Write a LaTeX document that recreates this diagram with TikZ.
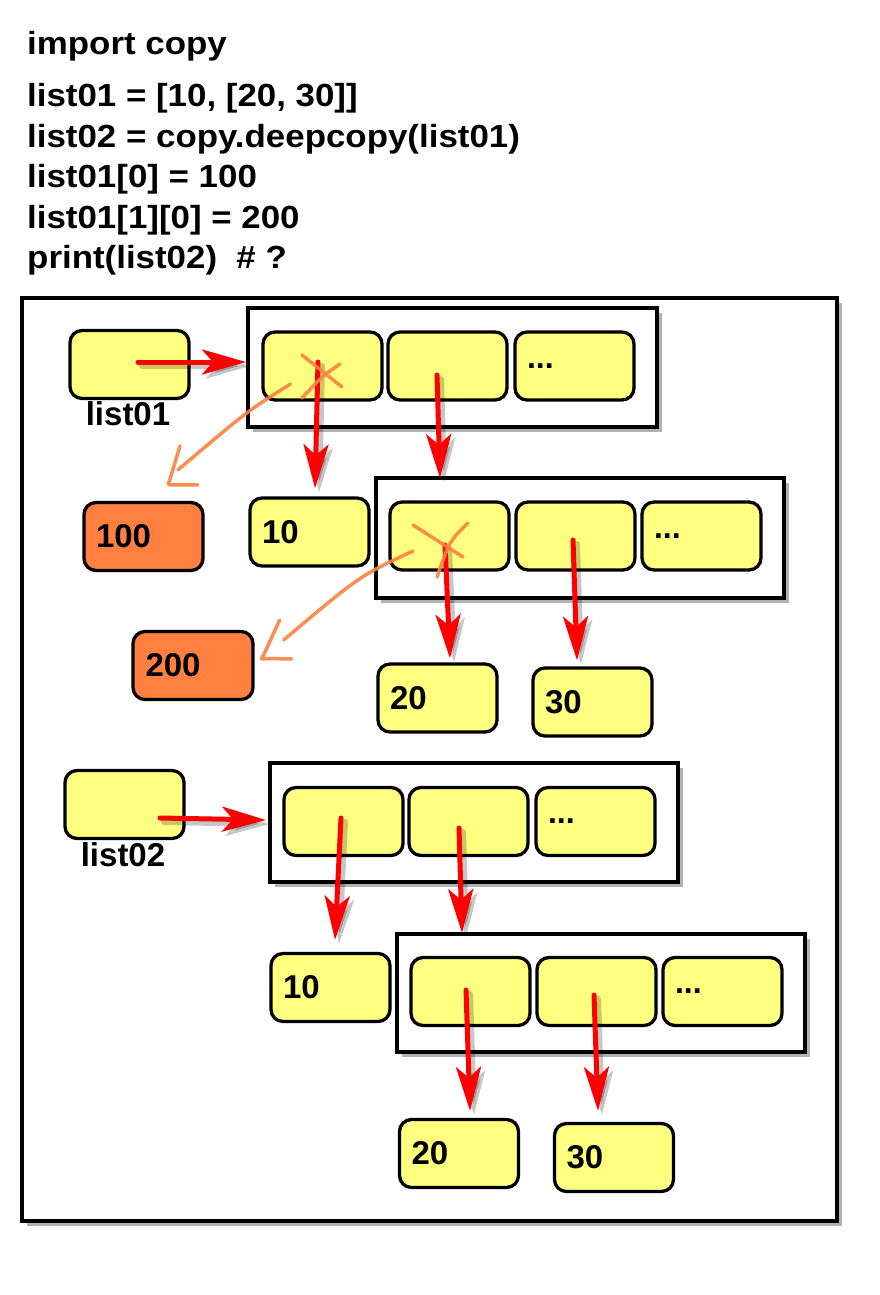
\documentclass[tikz,border=0pt]{standalone}
\usepackage{fontspec}
\setmainfont{Liberation Sans}
\newfontfamily\codefont{Liberation Sans}[FakeStretch=1.09]
\usetikzlibrary{arrows.meta,shadows}
\definecolor{cellyellow}{RGB}{255,255,128}
\definecolor{valorange}{RGB}{255,128,64}
\definecolor{strokeorange}{RGB}{250,130,65}
\definecolor{ptrred}{RGB}{255,0,0}
\begin{document}
\begin{tikzpicture}[x=1pt,y=-1pt,
  codeline/.style={anchor=base west, inner sep=0pt, font=\codefont\bfseries\fontsize{32}{32}\selectfont},
  cell/.style={draw=black, line width=3.3pt, rounded corners=12pt, fill=cellyellow,
    minimum height=68pt, inner xsep=12pt, inner ysep=0pt, text width=95pt, align=left,
    font=\bfseries\fontsize{33}{33}\selectfont},
  dots/.style={cell, font=\bfseries\fontsize{32}{32}\selectfont},
  valbox/.style={cell, fill=valorange},
  varlabel/.style={inner sep=0pt, font=\bfseries\fontsize{33}{33}\selectfont},
  container/.style={draw=black, line width=4pt, fill=white, inner sep=0pt,
    drop shadow={shadow xshift=5pt, shadow yshift=-5pt, opacity=0.3, fill=black}},
  ptrshade/.style={draw=black, opacity=0.22, line width=6pt, line cap=round,
    -{Stealth[length=44pt, width=25pt, inset=11pt]}},
  ptr/.style={draw=ptrred, line width=5pt, line cap=round,
    -{Stealth[length=44pt, width=25pt, inset=11pt]}},
  xstroke/.style={draw=strokeorange, line width=3.5pt, line cap=round, line join=round, opacity=0.9}
]
\fill[white] (0,0) rectangle (880,1295);
\useasboundingbox (0,0) rectangle (880,1295);

% code
\node[codeline] (code1) at (27,55) {import copy};
\node[codeline] (code2) at (27,107) {list01 = [10, [20, 30]]};
\node[codeline] (code3) at (27,147) {list02 = copy.deepcopy(list01)};
\node[codeline] (code4) at (27,187) {list01[0] = 100};
\node[codeline] (code5) at (27,228) {list01[1][0] = 200};
\node[codeline] (code6) at (27,268) {print(list02)\ \ \# ?};

% outer frame
\node[container, minimum width=815pt, minimum height=923pt] (frame) at (429.5,759.5) {};

% list01 part
\node[cell] (var1) at (129.5,364.5) {};
\node[varlabel] (lab1) at (128,414) {list01};
\node[container, minimum width=409pt, minimum height=119pt] (L1) at (452.5,367.5) {};
\node[cell] (c11) at (322.5,366) {};
\node[cell] (c12) at (447.5,366) {};
\node[dots] (c13) at (574.5,366) {...};

\node[valbox] (hund) at (143.5,536.5) {100};
\node[cell] (ten1) at (309.5,532) {10};

\node[container, minimum width=408pt, minimum height=120pt] (L2) at (580,538) {};
\node[cell] (c21) at (449.5,536) {};
\node[cell] (c22) at (575.5,536) {};
\node[dots] (c23) at (701.5,536) {...};

\node[valbox, minimum width=120pt] (twoh) at (193,665.5) {200};
\node[cell] (tw1) at (437.5,698) {20};
\node[cell] (th1) at (592.5,702) {30};

% list02 part
\node[cell] (var2) at (124.5,804.5) {};
\node[varlabel] (lab2) at (123,855) {list02};
\node[container, minimum width=408pt, minimum height=119pt] (L3) at (474,822.5) {};
\node[cell] (c31) at (343.5,821.5) {};
\node[cell] (c32) at (468.5,821.5) {};
\node[dots] (c33) at (595.5,821.5) {...};

\node[cell] (ten2) at (330.5,987.5) {10};
\node[container, minimum width=408pt, minimum height=118pt] (L4) at (601,993) {};
\node[cell] (c41) at (470.5,991.5) {};
\node[cell] (c42) at (596.5,991.5) {};
\node[dots] (c43) at (722.5,991.5) {...};

\node[cell] (tw2) at (459,1153.5) {20};
\node[cell] (th2) at (614,1157.5) {30};

% pointers (shadow first, then the red arrow)
\foreach \sty/\dd in {ptrshade/4, ptr/0}{
\begin{scope}[transform canvas={xshift=\dd pt, yshift=-\dd pt}]
\draw[\sty] ([shift={(8.5,-2.5)}]var1.center) -- ([shift={(0,-5.5)}]L1.west);
\draw[\sty] ([shift={(-4.5,-4)}]c11.center) -- ([shift={(5.5,-8)}]ten1.north);
\draw[\sty] ([shift={(-10.5,9)}]c12.center) -- ([shift={(-140,2)}]L2.north);
\draw[\sty] ([shift={(-4.5,9)}]c21.center) -- ([shift={(12.5,-4)}]tw1.north);
\draw[\sty] ([shift={(-2.5,4)}]c22.center) -- ([shift={(-15.5,-6)}]th1.north);
\draw[\sty] ([shift={(35.5,13.5)}]var2.center) -- ([shift={(-2,-2.5)}]L3.west);
\draw[\sty] ([shift={(-2.5,-3.5)}]c31.center) -- ([shift={(4.5,-12)}]ten2.north);
\draw[\sty] ([shift={(-9.5,6.5)}]c32.center) -- ([shift={(-139,1)}]L4.north);
\draw[\sty] ([shift={(-4.5,-1.5)}]c41.center) -- ([shift={(11,-7)}]tw2.north);
\draw[\sty] ([shift={(-2.5,3.5)}]c42.center) -- ([shift={(-16,-11)}]th2.north);
\end{scope}}

% crossed out references (list01[0] and list01[1][0])
\draw[xstroke] ([shift={(-20.5,-11)}]c11.center) -- ([shift={(19.5,21)}]c11.center);
\draw[xstroke] ([shift={(17.5,-2)}]c11.center) .. controls ([shift={(0,10)}]c11.center) .. ([shift={(-20.5,32)}]c11.center);
\draw[xstroke] ([shift={(-32,18)}]c11.center) .. controls ([shift={(-75,45)}]c11.center) .. ([shift={(34.5,-31)}]hund.north);
\draw[xstroke] ([shift={(36.5,-55)}]hund.north) -- ([shift={(26,-20)}]hund.north) .. controls ([shift={(24,-16)}]hund.north) .. ([shift={(30,-16)}]hund.north) -- ([shift={(54.5,-16)}]hund.north);

\draw[xstroke] ([shift={(-36.5,-11)}]c21.center) -- ([shift={(13.5,21)}]c21.center);
\draw[xstroke] ([shift={(18.5,-13)}]c21.center) .. controls ([shift={(0,5)}]c21.center) .. ([shift={(-12.5,41)}]c21.center);
\draw[xstroke] ([shift={(-36.5,15)}]c21.center) .. controls ([shift={(-90,40)}]c21.center) .. ([shift={(29,-25.5)}]twoh.east);
\draw[xstroke] ([shift={(25,-45.5)}]twoh.east) -- ([shift={(9,-10.5)}]twoh.east) .. controls ([shift={(6,-6)}]twoh.east) .. ([shift={(12,-7)}]twoh.east) -- ([shift={(37,-6.5)}]twoh.east);
\end{tikzpicture}
\end{document}
